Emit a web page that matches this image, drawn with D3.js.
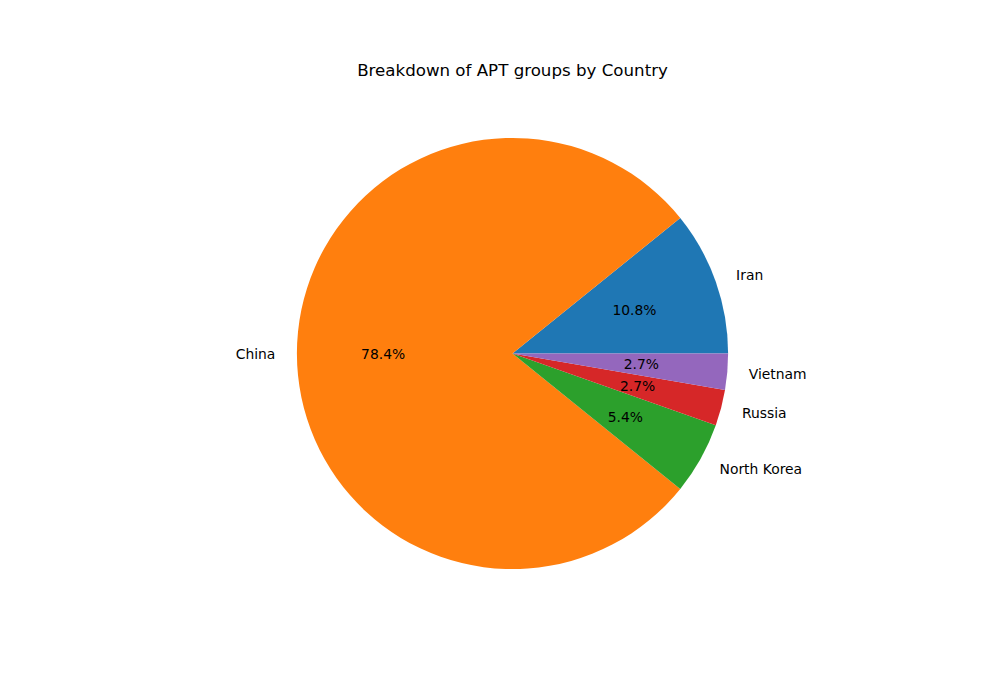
<!DOCTYPE html>
<html>
<head>
<meta charset="utf-8">
<script src="https://cdn.jsdelivr.net/npm/d3@7"></script>
<style>
  html, body { margin: 0; padding: 0; background: #fff; }
  svg { display: block; font-family: "DejaVu Sans", sans-serif; }
</style>
</head>
<body>
<svg id="chart" width="1000" height="700"></svg>
<script>
const title = "Breakdown of APT groups by Country";
const countries = ["Iran", "China", "North Korea", "Russia", "Vietnam"];
const groupCounts = [4, 29, 2, 1, 1];
const sliceColors = ["#1f77b4", "#ff7f0e", "#2ca02c", "#d62728", "#9467bd"];

const W = 1000, H = 700;
const cx = 512.5, cy = 353.5, R = 215.6;

const svg = d3.select("#chart");

svg.append("text")
  .attr("x", cx)
  .attr("y", 76)
  .attr("text-anchor", "middle")
  .attr("font-size", "16.67px")
  .attr("fill", "#000")
  .text(title);

const total = d3.sum(groupCounts);
const data = countries.map((c, i) => ({ country: c, value: groupCounts[i], color: sliceColors[i] }));

// matplotlib: start at 3 o'clock, counterclockwise
const pie = d3.pie().sort(null).value(d => d.value)
  .startAngle(Math.PI / 2).endAngle(Math.PI / 2 - 2 * Math.PI);
const arcs = pie(data);
const arc = d3.arc().innerRadius(0).outerRadius(R);

const g = svg.append("g").attr("transform", `translate(${cx},${cy})`);

g.selectAll("path.slice")
  .data(arcs)
  .enter().append("path")
  .attr("class", "slice")
  .attr("d", arc)
  .attr("fill", d => d.data.color);

function pos(d, f) {
  const a = (d.startAngle + d.endAngle) / 2; // d3 angle: 0 at 12 o'clock, clockwise
  return [f * R * Math.sin(a), -f * R * Math.cos(a)];
}

g.selectAll("text.label")
  .data(arcs)
  .enter().append("text")
  .attr("class", "label")
  .attr("x", d => pos(d, 1.1)[0])
  .attr("y", d => pos(d, 1.1)[1])
  .attr("text-anchor", d => pos(d, 1.1)[0] > 0 ? "start" : "end")
  .attr("dominant-baseline", "central")
  .attr("font-size", "13.89px")
  .attr("fill", "#000")
  .text(d => d.data.country);

g.selectAll("text.pct")
  .data(arcs)
  .enter().append("text")
  .attr("class", "pct")
  .attr("x", d => pos(d, 0.6)[0])
  .attr("y", d => pos(d, 0.6)[1])
  .attr("text-anchor", "middle")
  .attr("dominant-baseline", "central")
  .attr("font-size", "13.89px")
  .attr("fill", "#000")
  .text(d => (100 * d.data.value / total).toFixed(1) + "%");
</script>
</body>
</html>
